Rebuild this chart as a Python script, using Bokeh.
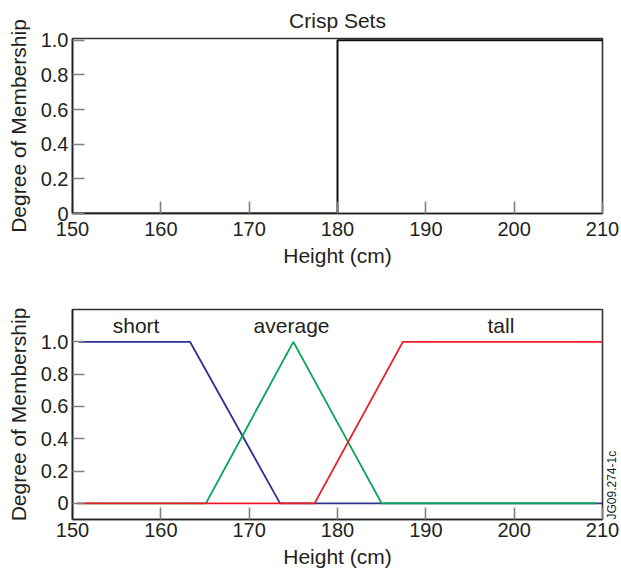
from bokeh.plotting import figure
from bokeh.layouts import column
from bokeh.models import FixedTicker, Label, Range1d
from bokeh.core.properties import value
from bokeh.embed import file_html
from bokeh.resources import INLINE

# ---- data ----
x_ticks = [150, 160, 170, 180, 190, 200, 210]
y_ticks = [0, 0.2, 0.4, 0.6, 0.8, 1.0]
y_tick_labels = ["0", "0.2", "0.4", "0.6", "0.8", "1.0"]

crisp_x = [150, 180, 180, 210]
crisp_y = [0, 0, 1, 1]

short_x = [150.7, 163.3, 173.5, 210]
short_y = [1, 1, 0, 0]

average_x = [151.4, 165.1, 175.0, 185.0, 209.3]
average_y = [0, 0, 1, 0, 0]

tall_x = [150.5, 177.4, 187.4, 210]
tall_y = [0, 0, 1, 1]

set_names = ["short", "average", "tall"]
set_label_x = [157.2, 174.8, 198.5]
set_label_y = [1.1, 1.1, 1.1]

FONT = "Liberation Sans"
W = 621


def style(p, tick_standoff_x, label_standoff_x):
    p.outline_line_color = "#333333"
    p.outline_line_width = 1.6
    p.xgrid.visible = False
    p.ygrid.visible = False
    for ax in (p.xaxis[0], p.yaxis[0]):
        ax.major_tick_in = 12
        ax.major_tick_out = 0
        ax.minor_tick_line_color = None
        ax.major_tick_line_color = "#808080"
        ax.major_tick_line_width = 1.6
        ax.axis_line_color = "#222222"
        ax.axis_line_width = 1.6
        ax.major_label_text_font = FONT
        ax.major_label_text_font_size = "20px"
        ax.major_label_text_color = "#231f20"
        ax.axis_label_text_font = FONT
        ax.axis_label_text_font_size = "21px"
        ax.axis_label_text_font_style = "normal"
        ax.axis_label_text_color = "#231f20"
    p.xaxis[0].ticker = FixedTicker(ticks=x_ticks)
    p.yaxis[0].ticker = FixedTicker(ticks=y_ticks)
    p.yaxis[0].major_label_overrides = {t: l for t, l in zip(y_ticks, y_tick_labels)}
    p.xaxis[0].major_label_standoff = tick_standoff_x
    p.xaxis[0].axis_label_standoff = label_standoff_x
    p.yaxis[0].major_label_standoff = 4
    p.yaxis[0].axis_label_standoff = 8
    p.xaxis[0].axis_label = "Height (cm)"
    p.yaxis[0].axis_label = "Degree of Membership"


# ---- top: crisp sets ----
p1 = figure(width=W, height=281, output_backend="svg", toolbar_location=None,
            x_range=Range1d(150, 210), y_range=Range1d(0, 1.01),
            min_border_left=72, min_border_right=19, min_border_top=38,
            min_border_bottom=68)
p1.title.text = "Crisp Sets"
p1.title.align = "center"
p1.title.text_font = FONT
p1.title.text_font_size = "21px"
p1.title.text_font_style = "normal"
p1.title.text_color = "#231f20"
p1.title.standoff = 13
style(p1, 8, 5)
p1.line(crisp_x, crisp_y, line_color="#111111", line_width=2)

# ---- bottom: fuzzy sets ----
p2 = figure(width=W, height=295, output_backend="svg", toolbar_location=None,
            x_range=Range1d(150, 210), y_range=Range1d(-0.1, 1.2),
            min_border_left=72, min_border_right=19, min_border_top=28,
            min_border_bottom=57)
style(p2, 3, 5)
p2.line(short_x, short_y, line_color="#2e3192", line_width=1.8)
p2.line(average_x, average_y, line_color="#00a651", line_width=1.8)
p2.line(tall_x, tall_y, line_color="#ed1c24", line_width=1.8)
p2.text(x=set_label_x, y=set_label_y, text=set_names,
        text_font=value(FONT), text_font_size="21px", text_color="#231f20",
        text_align="center", text_baseline="alphabetic")

tag = Label(x=210, y=-0.1, x_units="data", y_units="data", text="JG09.274-1c",
            angle=1.5708, x_offset=9.5, y_offset=0,
            text_align="left", text_baseline="middle",
            text_font=FONT, text_font_size="12px", text_color="#231f20")
p2.add_layout(tag, "right")

layout = column(p1, p2, spacing=0)
open("out.html", "w").write(file_html(layout, INLINE))
